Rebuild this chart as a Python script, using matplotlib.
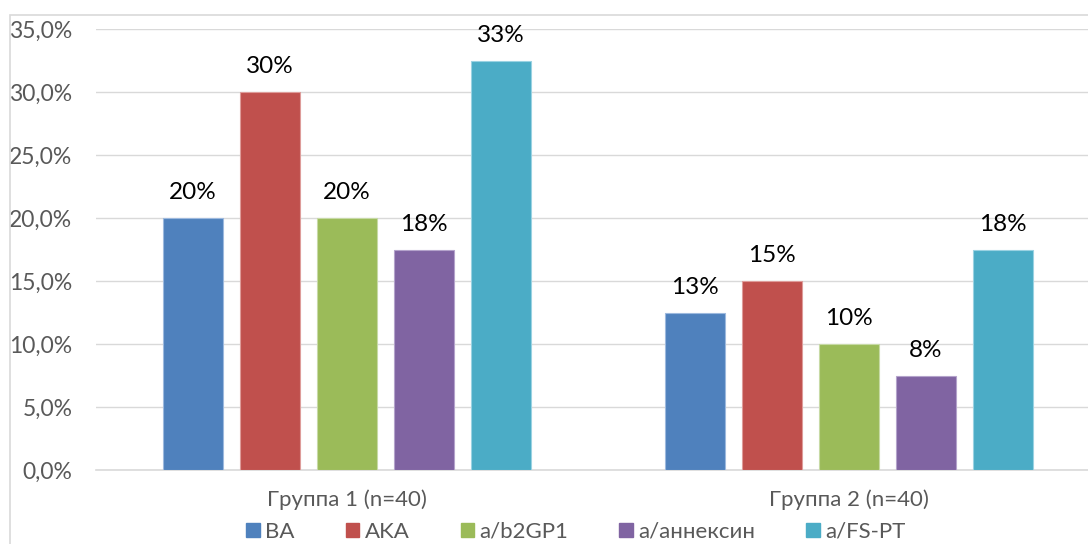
import math
import matplotlib
matplotlib.use("Agg")
import matplotlib.pyplot as plt
from matplotlib.patches import Patch, Rectangle
from matplotlib.ticker import FuncFormatter, MultipleLocator

plt.rcParams['font.family'] = ['Lato', 'DejaVu Sans']

# ----- data -----
groups = ['Группа 1 (n=40)', 'Группа 2 (n=40)']
series = ['BA', 'AKA', 'a/b2GP1', 'a/аннексин', 'a/FS-PT']
ba = [0.200, 0.125]
aka = [0.300, 0.150]
b2gp1 = [0.200, 0.100]
annexin = [0.175, 0.075]
fspt = [0.325, 0.175]
values = [ba, aka, b2gp1, annexin, fspt]

colors = ['#4F81BD', '#C0504D', '#9BBB59', '#8064A2', '#4BACC6']
edges = ['#9DB9DE', '#DE9C9A', '#C7DAA5', '#B4A3CB', '#9AD2E2']
grey = '#595959'
gridc = '#D9D9D9'

fig = plt.figure(figsize=(10.88, 5.44), dpi=100)
ax = fig.add_axes([96/1088, 1 - 470/544, 1004/1088, 441/544])

# outer chart frame (cropped at right / bottom)
fig.patches.append(Rectangle((9.5/1088, -1), 2, 1 + 1 - 14.5/544,
                             transform=fig.transFigure, fill=False,
                             edgecolor=gridc, lw=1.2))

width = 60/502
step = 77/502
x = range(len(groups))
for i, (name, vals) in enumerate(zip(series, values)):
    pos = [xi + (i - 2) * step for xi in x]
    bars = ax.bar(pos, vals, width, color=colors[i], edgecolor=edges[i],
                  linewidth=0.8, label=name, zorder=3)
    for b, v in zip(bars, vals):
        ax.annotate(f"{math.floor(v*100 + 0.5)}%",
                    (b.get_x() + b.get_width()/2, v),
                    xytext=(0, 13.5), textcoords='offset points',
                    ha='center', va='baseline', fontsize=17.5, color='#000000')

ax.set_xlim(-0.5, 1.5)
ax.set_ylim(0, 0.35)
ax.yaxis.set_major_locator(MultipleLocator(0.05))
ax.yaxis.set_major_formatter(FuncFormatter(lambda v, p: f"{v*100:.1f}%".replace('.', ',')))
ax.set_xticks(list(x))
ax.set_xticklabels(groups)
ax.tick_params(axis='y', length=0, pad=17, labelsize=16.5, labelcolor=grey)
ax.tick_params(axis='x', length=0, pad=14, labelsize=16, labelcolor=grey)

ax.grid(axis='y', color=gridc, lw=1.0, zorder=0)
for s in ['top', 'right', 'left']:
    ax.spines[s].set_visible(False)
ax.spines['bottom'].set_color(gridc)
ax.spines['bottom'].set_linewidth(1.2)

handles = [Patch(facecolor=c, edgecolor=c) for c in colors]
fig.legend(handles, series, loc='center', bbox_to_anchor=(576/1088, 1 - 532/544),
           ncol=5, frameon=False, fontsize=16, labelcolor=grey,
           handlelength=0.6, handleheight=0.6, handletextpad=0.25,
           columnspacing=2.3, borderpad=0)

fig.savefig("out.png", dpi=100)
